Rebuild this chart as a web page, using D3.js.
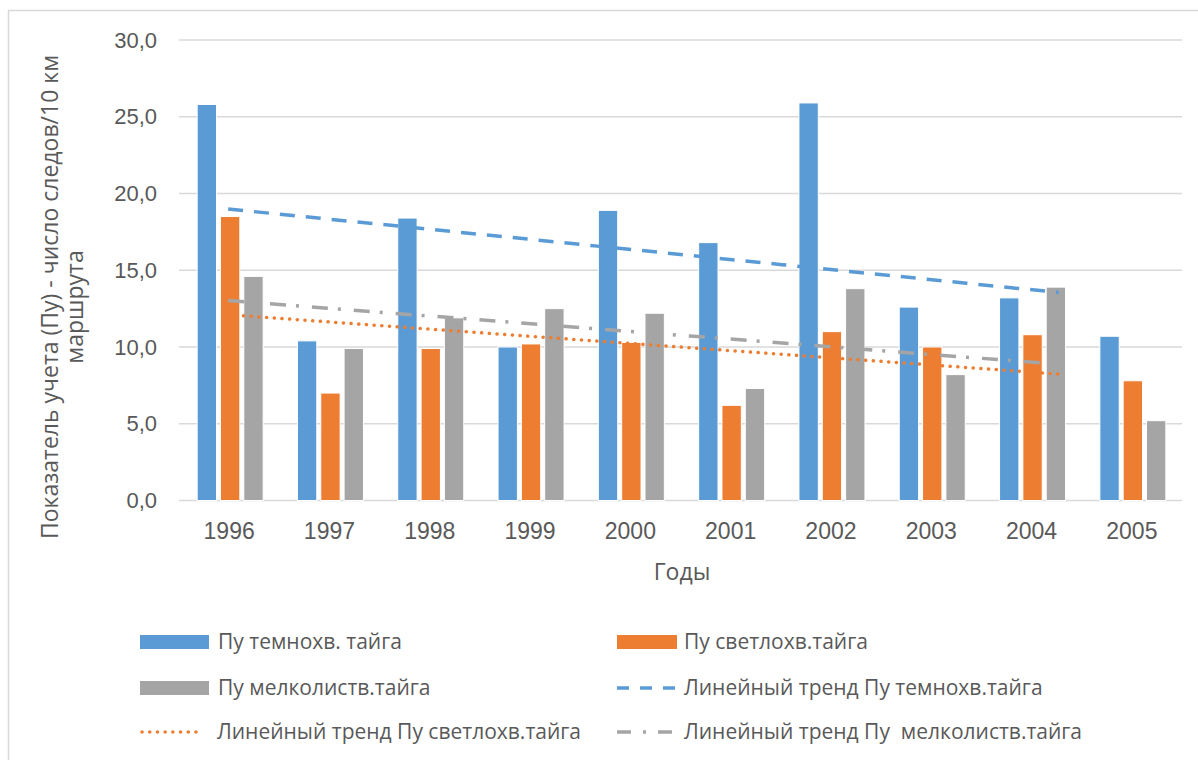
<!DOCTYPE html>
<html>
<head>
<meta charset="utf-8">
<script src="https://cdn.jsdelivr.net/npm/d3@7"></script>
<style>
  html, body { margin: 0; padding: 0; background: #fff; }
  svg { display: block; font-family: "Open Sans", "DejaVu Sans", sans-serif; }
</style>
</head>
<body>
<svg id="chart" width="1198" height="760"></svg>
<script>
// Years of observation
const years = ["1996", "1997", "1998", "1999", "2000", "2001", "2002", "2003", "2004", "2005"];

// Track counts per 10 km of route, by taiga type
const darkTaiga  = [25.8, 10.4, 18.4, 10.0, 18.9, 16.8, 25.9, 12.6, 13.2, 10.7];
const lightTaiga = [18.5, 7.0, 9.9, 10.2, 10.3, 6.2, 11.0, 10.0, 10.8, 7.8];
const leafTaiga  = [14.6, 9.9, 11.9, 12.5, 12.2, 7.3, 13.8, 8.2, 13.9, 5.2];

const seriesNames = ["Пу темнохв. тайга", "Пу светлохв.тайга", "Пу мелколиств.тайга"];
const trendNames = ["Линейный тренд Пу темнохв.тайга", "Линейный тренд Пу светлохв.тайга", "Линейный тренд Пу  мелколиств.тайга"];
const yTicks = [0, 5, 10, 15, 20, 25, 30];

const colors = ["#5b9bd5", "#ed7d31", "#a5a5a5"];
const textColor = "#595959";
const gridColor = "#d9d9d9";

const series = [darkTaiga, lightTaiga, leafTaiga];

const svg = d3.select("#chart");

// Chart frame
svg.append("rect")
  .attr("x", 8.5).attr("y", 10.5)
  .attr("width", 1230).attr("height", 800)
  .attr("fill", "#fff").attr("stroke", "#d9d9d9").attr("stroke-width", 1.5);

const plot = { left: 179, right: 1182, top: 40, bottom: 500.5 };

const x = d3.scaleBand().domain(years).range([plot.left, plot.right]).padding(0);
const groupW = 66;
const x1 = d3.scaleBand().domain(d3.range(3)).range([0, groupW]).paddingInner(0.17).paddingOuter(0);
const y = d3.scaleLinear().domain([0, 30]).range([plot.bottom, plot.top]);

// Horizontal gridlines
svg.append("g")
  .selectAll("line")
  .data(yTicks)
  .join("line")
  .attr("x1", plot.left).attr("x2", plot.right)
  .attr("y1", d => y(d)).attr("y2", d => y(d))
  .attr("stroke", gridColor).attr("stroke-width", 1.5);

// Y axis labels
const yAxis = d3.axisLeft(y).tickValues(yTicks)
  .tickFormat(d => d3.format(".1f")(d).replace(".", ","))
  .tickSize(0).tickPadding(22);
const gy = svg.append("g").attr("transform", `translate(${plot.left},0)`).call(yAxis);
gy.select(".domain").remove();
gy.selectAll("text").attr("fill", textColor).style("font-size", "22px")
  .attr("x", -22);

// X axis labels
const xAxis = d3.axisBottom(x).tickSize(0).tickPadding(22);
const gx = svg.append("g").attr("transform", `translate(0,${plot.bottom})`).call(xAxis);
gx.select(".domain").remove();
gx.selectAll("text").attr("fill", textColor).style("font-size", "23px");

// Bars
const groups = svg.append("g")
  .selectAll("g")
  .data(years)
  .join("g")
  .attr("transform", d => `translate(${x(d) + (x.bandwidth() - groupW) / 2 + 1},0)`);

groups.selectAll("rect")
  .data((d, i) => series.map((s, k) => ({ k, v: s[i] })))
  .join("rect")
  .attr("x", d => x1(d.k))
  .attr("width", x1.bandwidth())
  .attr("y", d => y(d.v))
  .attr("height", d => y(0) - y(d.v))
  .attr("fill", d => colors[d.k])
  .attr("stroke", "#fff").attr("stroke-width", 1);

// Linear least-squares trend for each series
function linearFit(vals) {
  const n = vals.length;
  const xs = d3.range(n);
  const mx = d3.mean(xs), my = d3.mean(vals);
  const sxy = d3.sum(xs, (xi, i) => (xi - mx) * (vals[i] - my));
  const sxx = d3.sum(xs, xi => (xi - mx) * (xi - mx));
  const b = sxy / sxx;
  const a = my - b * mx;
  return xs.map(xi => a + b * xi);
}

const trendX = d3.scaleLinear().domain([0, years.length - 1])
  .range([x(years[0]) + x.bandwidth() / 2 - 1, x(years[years.length - 1]) + x.bandwidth() / 2 - 73]);

const trendStyles = [
  { dash: "15,11", cap: "butt" },
  { dash: "0.1,7.6", cap: "round" },
  { dash: "16,10,3,13", cap: "butt" }
];

const line = d3.line().x((d, i) => trendX(i)).y(d => y(d));

series.forEach((s, k) => {
  svg.append("path")
    .datum(linearFit(s))
    .attr("d", line)
    .attr("fill", "none")
    .attr("stroke", colors[k])
    .attr("stroke-width", 3.5)
    .attr("stroke-dasharray", trendStyles[k].dash)
    .attr("stroke-linecap", trendStyles[k].cap);
});

// Axis titles
svg.append("text")
  .attr("x", 682).attr("y", 580)
  .attr("text-anchor", "middle")
  .attr("fill", textColor).style("font-size", "23px")
  .text("Годы");

const yTitle = svg.append("text")
  .attr("transform", "translate(50,297) rotate(-90)")
  .attr("text-anchor", "middle")
  .attr("fill", textColor).style("font-size", "23px");
yTitle.append("tspan").attr("x", 0).attr("y", 8).text("Показатель учета (Пу) - число следов/10 км");
yTitle.append("tspan").attr("x", -10).attr("y", 33).text("маршрута");

// Legend
const legendItems = [
  { type: "rect", k: 0, label: seriesNames[0], sx: 140, sw: 69, tx: 218, cy: 642 },
  { type: "rect", k: 1, label: seriesNames[1], sx: 617, sw: 60, tx: 684, cy: 642 },
  { type: "rect", k: 2, label: seriesNames[2], sx: 140, sw: 69, tx: 218, cy: 688 },
  { type: "line", k: 0, label: trendNames[0], sx: 617, sw: 60, tx: 684, cy: 688 },
  { type: "line", k: 1, label: trendNames[1], sx: 140, sw: 63, tx: 217, cy: 732 },
  { type: "line", k: 2, label: trendNames[2], sx: 617, sw: 60, tx: 684, cy: 732 }
];

const legend = svg.append("g");
legendItems.forEach(it => {
  if (it.type === "rect") {
    legend.append("rect")
      .attr("x", it.sx).attr("y", it.cy - 7)
      .attr("width", it.sw).attr("height", 14)
      .attr("fill", colors[it.k]);
  } else {
    legend.append("line")
      .attr("x1", it.sx + (it.k === 1 ? 2 : 0)).attr("x2", it.sx + it.sw)
      .attr("y1", it.cy).attr("y2", it.cy)
      .attr("stroke", colors[it.k]).attr("stroke-width", 3.5)
      .attr("stroke-dasharray", it.k === 0 ? "12,11" : it.k === 1 ? "0.1,7.6" : "14,12,3,12")
      .attr("stroke-linecap", trendStyles[it.k].cap);
  }
  legend.append("text")
    .attr("x", it.tx).attr("y", it.cy)
    .attr("dy", "0.35em")
    .style("white-space", "pre")
    .attr("fill", textColor).style("font-size", "21px")
    .text(it.label);
});
</script>
</body>
</html>
